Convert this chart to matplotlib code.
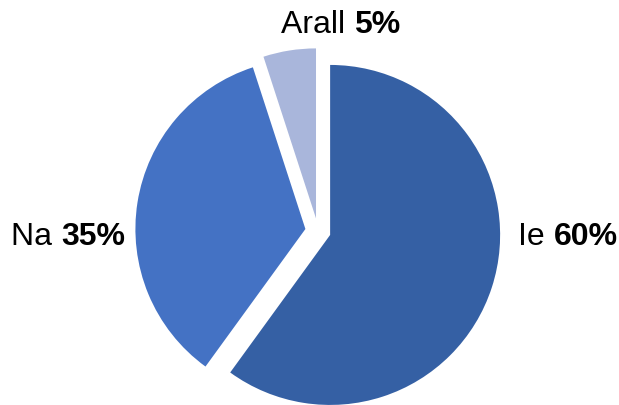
import matplotlib
matplotlib.use("Agg")
import matplotlib.pyplot as plt

labels = ["Ie", "Na", "Arall"]
values = [60, 35, 5]
colors = ["#3560A4", "#4472C4", "#A9B6DB"]

plt.rcParams["font.family"] = ["Liberation Sans", "DejaVu Sans"]

W, H = 619, 405
cx, cy, r = 318, 231, 170  # pie centre and radius in pixels


def to_data(px, py):
    return (px - cx) / r, (cy - py) / r


fig = plt.figure(figsize=(W / 100, H / 100), dpi=100)
ax = fig.add_axes([0, 0, 1, 1])
ax.pie(values, colors=colors, startangle=90, counterclock=False,
       explode=[0.075] * len(values), radius=1,
       wedgeprops=dict(linewidth=0))
ax.set_xlim(-cx / r, (W - cx) / r)
ax.set_ylim(-(H - cy) / r, cy / r)
ax.set_aspect("equal")
ax.axis("off")

# label positions (left x, baseline y) in pixels
label_pos = {"Ie": (518, 245), "Na": (11, 245), "Arall": (281, 33)}
fs = 23
for lab, val in zip(labels, values):
    x, y = to_data(*label_pos[lab])
    t = ax.text(x, y, lab + " ", fontsize=fs, ha="left", va="baseline")
    ax.annotate(f"{val}%", xy=(1, 0), xycoords=t, fontsize=fs,
                fontweight="bold", ha="left", va="bottom")

fig.savefig("out.png", dpi=100)
